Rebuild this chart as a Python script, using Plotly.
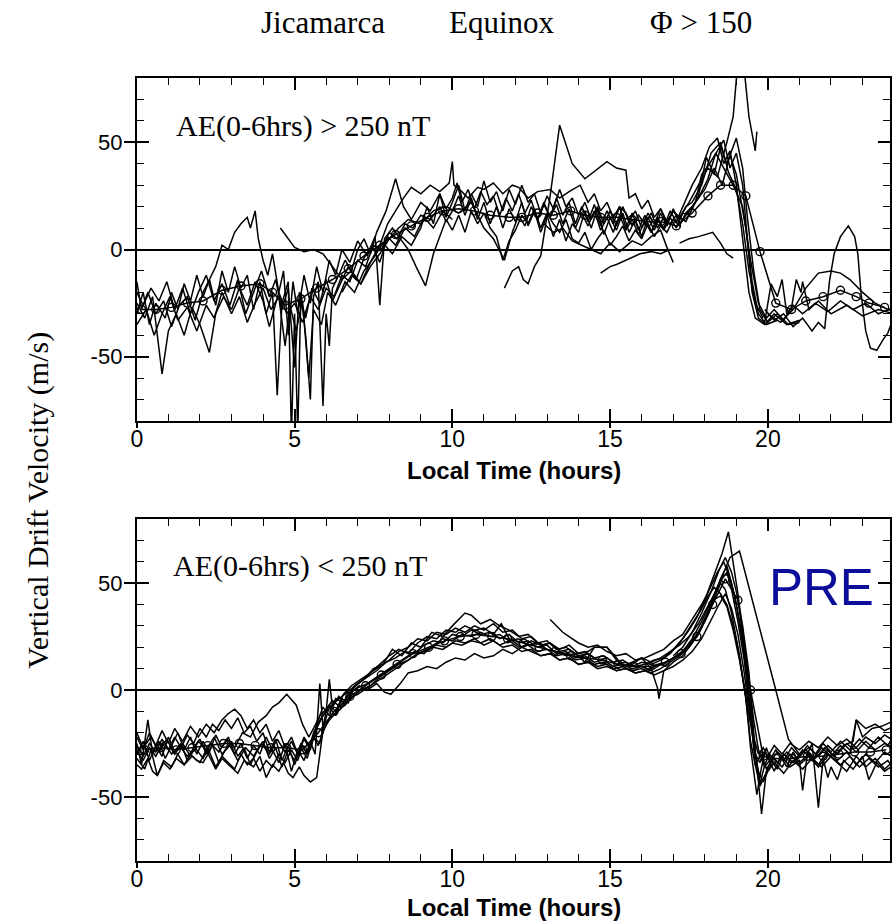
import plotly.graph_objects as go

# ---------------------------------------------------------------
# Jicamarca equinox vertical drifts, solar flux > 150
# each list: (local time [h], vertical drift [m/s]) for one day
# ---------------------------------------------------------------

# upper panel: AE(0-6hrs) > 250 nT
top_day01 = [(0.0,-25),(0.25,-32),(0.5,-22),(0.8,-58),(1.0,-38),(1.25,-30),(1.5,-40),(1.75,-27),(2.0,-35),(2.3,-48),(2.5,-30),(2.75,-22),(3.0,-28),(3.25,-18),(3.5,-26),(3.75,-15),(4.0,-24),(4.2,-36),(4.5,-20),(4.75,-30),(5.0,-25),(5.25,-34),(5.5,-22),(5.75,-28),(6.0,-18),(6.25,-22),(6.5,-12),(6.75,-15),(7.0,-5),(7.25,-8),(7.5,2),(7.75,0),(8.0,8),(8.25,5),(8.5,12),(8.75,10),(9.0,16),(9.3,14),(9.6,20),(9.8,13),(10.0,18),(10.2,25),(10.4,16),(10.6,24),(10.8,14),(11.0,22),(11.2,12),(11.4,20),(11.6,10),(11.8,19),(12.0,13),(12.2,22),(12.4,11),(12.6,18),(12.8,8),(13.0,16),(13.2,6),(13.4,14),(13.6,4),(13.8,12),(14.0,8),(14.2,18),(14.4,10),(14.6,19),(14.8,7),(15.0,15),(15.2,9),(15.4,17),(15.6,8),(15.8,14),(16.0,6),(16.2,15),(16.4,9),(16.6,17),(16.8,11),(17.0,19),(17.2,12),(17.5,18),(17.8,24),(18.1,33),(18.35,45),(18.6,38),(18.9,30),(19.2,20),(19.45,-5),(19.7,-25),(19.95,-32),(20.2,-28),(20.5,-33),(20.8,-26),(21.1,-30),(21.5,-25),(21.9,-29),(22.3,-24),(22.7,-28),(23.1,-25),(23.5,-30),(24.0,-27)]
top_day02 = [(0.0,-30),(0.2,-20),(0.4,-35),(0.6,-25),(0.9,-32),(1.1,-20),(1.3,-28),(1.5,-16),(1.7,-24),(1.9,-12),(2.1,-22),(2.3,-14),(2.5,-26),(2.7,-10),(2.9,-20),(3.1,-8),(3.3,-18),(3.5,-12),(3.7,-28),(3.9,-15),(4.1,-30),(4.3,-20),(4.45,-68),(4.6,-25),(4.8,-15),(4.9,-88),(5.0,-30),(5.1,-86),(5.2,-20),(5.35,-40),(5.5,-70),(5.6,-22),(5.75,-15),(5.9,-73),(6.0,-30),(6.1,-45),(6.2,-18),(6.4,-12),(6.6,-5),(6.8,-10),(7.0,0),(7.2,5),(7.4,-2),(7.6,8),(7.9,18),(8.2,33),(8.45,20),(8.7,14),(9.0,22),(9.3,18),(9.6,26),(9.8,19),(10.0,24),(10.15,31),(10.3,22),(10.5,28),(10.7,19),(10.9,27),(11.1,21),(11.3,25),(11.5,16),(11.7,24),(11.9,18),(12.1,26),(12.3,17),(12.5,23),(12.7,14),(12.9,21),(13.1,15),(13.3,24),(13.5,16),(13.7,22),(13.9,12),(14.1,20),(14.3,13),(14.5,21),(14.7,11),(14.9,18),(15.1,12),(15.3,20),(15.5,10),(15.7,17),(15.9,9),(16.1,16),(16.3,8),(16.5,15),(16.7,10),(16.9,18),(17.1,13),(17.3,20),(17.6,30),(17.9,38),(18.15,48),(18.4,52),(18.6,40),(18.8,46),(19.0,30),(19.2,5),(19.4,-20),(19.6,-32),(19.9,-35),(20.2,-30),(20.6,-35),(21.0,-33)]
top_day03 = [(0.0,-15),(0.15,-28),(0.35,-20),(0.6,-30),(0.85,-24),(1.1,-36),(1.35,-26),(1.6,-22),(1.85,-33),(2.1,-20),(2.3,-14),(2.5,-8),(2.7,2),(2.9,0),(3.1,8),(3.3,12),(3.5,15),(3.6,10),(3.75,18),(3.85,5),(4.0,-5),(4.15,-12),(4.3,-2),(4.5,-20),(4.65,-10),(4.8,-40),(4.95,-15),(5.1,-30),(5.3,-12),(5.5,-25),(5.7,-8),(5.9,-20),(6.1,-5),(6.3,-12),(6.5,0),(6.75,-6),(7.0,4),(7.3,-3),(7.55,6),(7.7,-26),(7.85,5),(8.1,10),(8.4,4),(8.6,0),(8.85,-8),(9.15,-17),(9.4,-2),(9.6,6),(9.8,14),(10.0,9),(10.2,16),(10.4,8),(10.6,18),(10.8,12),(11.0,17),(11.2,10),(11.4,6),(11.6,-5),(11.8,4),(12.0,9),(12.2,16),(12.4,12),(12.6,19),(12.8,10),(13.0,17),(13.2,12),(13.4,8),(13.6,14),(13.8,5),(14.0,3),(14.2,8),(14.4,0),(14.6,5),(14.8,9),(15.0,2),(15.2,6),(15.4,11),(15.6,4),(15.8,9),(16.0,5),(16.2,12),(16.4,6),(16.6,11),(16.8,8),(17.0,14),(17.2,11),(17.4,17),(17.6,20),(18.0,28),(18.3,38),(18.55,30),(18.8,44),(19.0,35),(19.3,10),(19.5,-15),(19.7,-30),(19.9,-34),(20.1,-16),(20.3,-22),(20.45,-14),(20.6,-30),(20.75,-27),(20.9,-14),(21.05,-20),(21.1,-15),(21.3,-28),(21.6,-24),(22.0,-30),(22.5,-26),(23.0,-31),(23.5,-28),(24.0,-30)]
top_day04 = [(4.55,10),(4.75,6),(5.0,1),(5.3,-1),(5.6,0),(5.9,-2),(6.2,-8),(6.5,-14),(6.8,-10),(7.1,-16),(7.4,-8),(7.7,-2),(8.0,5),(8.3,10),(8.6,14),(9.0,12),(9.4,18),(9.8,20),(10.2,17),(10.6,22),(11.0,10),(11.3,5),(11.65,-5),(11.9,8),(12.1,16),(12.3,11),(12.5,20),(12.7,14),(12.9,22),(13.1,15),(13.3,21),(13.5,12),(13.7,19),(13.9,10),(14.1,17),(14.3,11),(14.5,18),(14.7,9),(14.9,15),(15.1,8),(15.3,16),(15.5,9),(15.7,14),(15.9,7),(16.1,13),(16.3,8),(16.5,14),(16.7,9),(16.9,15),(17.1,10),(17.3,17),(17.5,16),(17.8,25),(18.05,43),(18.3,35),(18.5,48),(18.7,40),(19.0,52),(19.2,38),(19.35,15),(19.55,-10),(19.75,-28),(20.0,-34),(20.3,-30),(20.65,-35),(21.0,-34)]
top_day05 = [(11.65,-18),(11.9,-10),(12.1,-8),(12.25,-14),(12.4,-16),(12.6,-8),(12.8,-3),(13.1,25),(13.4,58),(13.8,40),(14.2,33),(14.55,37),(14.9,41),(15.2,38),(15.5,37),(15.6,24),(15.8,26),(16.0,19),(16.2,23),(16.4,15),(16.6,19),(16.8,12),(17.0,18),(17.2,14),(17.4,20),(17.6,22),(17.9,30),(18.2,45),(18.5,50),(18.75,36),(19.0,28),(19.2,12),(19.4,-10),(19.6,-25),(19.85,-32)]
top_day06 = [(6.5,-20),(6.8,-12),(7.1,-16),(7.4,-6),(7.7,2),(7.95,12),(8.2,18),(8.45,24),(8.7,29),(9.0,26),(9.3,30),(9.6,27),(9.9,31),(10.0,41),(10.05,30),(10.3,27),(10.5,24),(10.8,29),(11.0,28),(11.3,31),(11.6,26),(11.9,30),(12.1,29),(12.4,24),(12.7,27),(13.1,28),(13.4,24),(13.7,27),(14.05,30),(14.3,22),(14.5,26),(14.7,18),(14.9,22),(15.1,15),(15.3,20),(15.5,17),(15.7,11),(15.9,16),(16.1,12),(16.3,17),(16.5,10),(16.7,15),(16.9,12),(17.1,16),(17.4,13),(17.7,22),(17.9,35),(18.15,40),(18.4,46),(18.6,51),(18.8,38),(19.0,45),(19.2,30),(19.35,5),(19.5,-20),(19.7,-32),(19.95,-35),(20.3,-33)]
top_day07 = [(0.0,-35),(0.3,-28),(0.55,-40),(0.8,-30),(1.05,-22),(1.3,-33),(1.6,-27),(1.9,-38),(2.2,-26),(2.45,-32),(2.7,-20),(3.0,-30),(3.25,-22),(3.5,-34),(3.75,-25),(4.0,-18),(4.25,-28),(4.5,-22),(4.7,-45),(4.85,-26),(5.05,-38),(5.25,-24),(5.45,-60),(5.6,-28),(5.85,-35),(6.05,-20),(6.3,-26),(6.6,-15),(6.9,-20),(7.2,-10),(7.5,-4),(7.8,3),(8.1,-2),(8.4,6),(8.7,2),(9.0,10),(9.2,20),(9.4,12),(9.6,26),(9.8,15),(10.0,22),(10.2,30),(10.4,18),(10.6,26),(10.8,20),(11.0,32),(11.2,22),(11.4,27),(11.6,18),(11.8,28),(12.0,21),(12.2,30),(12.4,22),(12.6,26),(12.8,17),(13.0,25),(13.2,19),(13.4,28),(13.6,20),(13.8,24),(14.0,16),(14.2,22),(14.4,14),(14.6,20),(14.8,12),(15.0,18),(15.2,11),(15.4,20),(15.6,13),(15.8,18),(16.0,10),(16.2,17),(16.4,12),(16.6,19),(16.8,13),(17.0,18),(17.2,15),(17.5,22),(17.8,30),(18.1,38),(18.4,34),(18.7,50),(18.9,62),(19.05,88),(19.25,84),(19.4,62),(19.6,46),(19.65,55)]
top_day08 = [(12.9,12),(13.2,8),(13.5,10),(13.8,4),(14.1,2),(14.4,0),(14.7,-2),(15.0,3),(15.3,-1),(15.7,4),(16.0,2),(16.3,6),(16.6,9),(16.8,1),(17.0,-6)]
top_day09 = [(14.7,-11),(15.0,-8),(15.2,-7),(15.5,-5),(15.95,-2),(16.3,-1),(16.6,-2),(16.9,0)]
top_day10 = [(17.2,3),(17.5,5),(17.8,6),(18.25,8),(18.5,3),(18.7,-2),(18.9,-4)]
top_day11 = [(19.9,-28),(20.2,-33),(20.5,-30),(20.8,-36),(21.1,-32),(21.4,-38),(21.6,-34),(21.8,-37),(21.95,-15),(22.1,-2),(22.3,6),(22.55,11),(22.75,6),(22.85,-2),(22.95,-20),(23.1,-38),(23.25,-46),(23.45,-47),(23.65,-42),(23.8,-39),(23.95,-33)]
top_day12 = [(20.0,-30),(20.4,-34),(20.8,-28),(21.2,-18),(21.6,-11),(22.0,-10),(22.3,-11),(22.6,-14),(23.0,-20),(23.4,-25),(23.8,-28),(24.0,-29)]
top_day13 = [(0.0,-20),(0.2,-26),(0.45,-18),(0.7,-24),(0.95,-15),(1.2,-28),(1.45,-18),(1.7,-30),(1.95,-20),(2.2,-12),(2.45,-24),(2.7,-16),(2.95,-26),(3.2,-14),(3.45,-30),(3.7,-20),(3.95,-10),(4.2,-22),(4.4,-14),(4.6,-28),(4.8,-18),(5.0,-55),(5.15,-20),(5.35,-32),(5.55,-18),(5.8,-25),(6.0,-14),(6.2,-24),(6.45,-16),(6.7,-8),(6.95,-14),(7.2,-4),(7.45,2),(7.7,-6),(7.95,6),(8.2,2),(8.5,10),(8.8,6),(9.1,15),(9.4,10),(9.7,18),(10.0,14)]

top_mean = [(0.15,-28),(0.6,-28),(1.1,-27),(1.6,-25),(2.1,-24),(2.7,-19),(3.3,-17),(3.9,-16),(4.3,-20),(4.7,-26),(5.2,-23),(5.7,-18),(6.2,-14),(6.7,-9),(7.2,-3),(7.7,2),(8.2,7),(8.7,11),(9.2,15),(9.7,18),(10.2,19),(10.7,18),(11.2,16),(11.8,15),(12.2,15),(12.7,17),(13.2,16),(13.75,18),(14.2,16),(14.7,15),(15.2,15),(15.7,14),(16.2,13),(16.6,13),(17.1,11),(17.6,17),(18.1,25),(18.5,30),(18.9,30),(19.3,25),(19.75,-1),(20.25,-25),(20.75,-28),(21.2,-24),(21.75,-22),(22.3,-19),(22.8,-22),(23.2,-25),(23.7,-27)]

# lower panel: AE(0-6hrs) < 250 nT
bot_day01 = [(0.0,-30),(0.2,-24),(0.4,-33),(0.6,-26),(0.8,-31),(1.0,-22),(1.2,-29),(1.4,-25),(1.6,-33),(1.8,-27),(2.0,-23),(2.2,-30),(2.4,-26),(2.6,-34),(2.8,-28),(3.0,-24),(3.2,-31),(3.4,-27),(3.6,-35),(3.8,-29),(4.0,-24),(4.2,-32),(4.4,-27),(4.6,-36),(4.8,-28),(5.0,-33),(5.2,-25),(5.4,-30),(5.6,-20),(5.8,-14),(6.0,-10),(6.25,-6),(6.5,-3),(6.75,0),(7.0,3),(7.3,6),(7.6,9),(7.9,13),(8.2,15),(8.5,18),(8.8,17),(9.1,21),(9.4,23),(9.7,22),(10.0,26),(10.3,25),(10.6,28),(10.9,26),(11.2,27),(11.5,24),(11.8,26),(12.1,22),(12.4,23),(12.7,20),(13.0,21),(13.3,17),(13.6,18),(13.9,15),(14.2,16),(14.5,13),(14.8,14),(15.1,11),(15.4,12),(15.7,10),(16.0,11),(16.3,9),(16.6,12),(16.9,14),(17.2,17),(17.5,21),(17.8,27),(18.05,34),(18.3,44),(18.5,52),(18.7,58),(18.85,50),(19.0,40),(19.2,22),(19.4,4),(19.55,-14),(19.7,-28),(19.9,-36),(20.05,-33),(20.2,-38),(20.4,-31),(20.6,-36),(20.8,-29),(21.0,-34),(21.3,-30),(21.6,-35),(21.9,-28),(22.2,-33),(22.5,-29),(22.8,-35),(23.1,-30),(23.4,-34),(23.7,-29),(24.0,-32)]
bot_day02 = [(0.0,-25),(0.15,-35),(0.35,-14),(0.5,-30),(0.7,-24),(0.9,-32),(1.1,-26),(1.3,-20),(1.5,-28),(1.7,-22),(1.9,-30),(2.1,-24),(2.3,-29),(2.5,-21),(2.7,-27),(2.9,-22),(3.1,-30),(3.3,-25),(3.5,-32),(3.7,-26),(3.9,-30),(4.1,-22),(4.3,-28),(4.5,-34),(4.7,-25),(4.9,-38),(5.1,-28),(5.3,-33),(5.5,-24),(5.65,-30),(5.8,3),(5.9,-18),(6.1,-8),(6.3,-12),(6.5,-4),(6.7,-6),(6.9,2),(7.2,5),(7.5,10),(7.8,12),(8.1,19),(8.4,16),(8.7,22),(9.0,20),(9.35,27),(9.7,25),(10.0,30),(10.4,36),(10.6,35),(10.9,31),(11.2,33),(11.5,30),(11.8,28),(12.1,25),(12.4,26),(12.7,22),(13.0,23),(13.3,19),(13.6,20),(13.9,17),(14.2,18),(14.5,15),(14.8,16),(15.1,13),(15.4,14),(15.7,11),(16.0,13),(16.3,12),(16.6,14),(16.9,17),(17.2,22),(17.5,28),(17.75,34),(18.0,42),(18.2,50),(18.4,58),(18.55,64),(18.75,74),(18.9,60),(19.05,45),(19.2,28),(19.35,8),(19.5,-12),(19.65,-35),(19.8,-58),(19.95,-38),(20.1,-33),(20.3,-37),(20.5,-30),(20.8,-34),(21.1,-28),(21.4,-33),(21.7,-27),(22.0,-31),(22.3,-26),(22.6,-30),(22.8,-14),(23.0,-22),(23.3,-18),(23.6,-17),(23.9,-15)]
bot_day03 = [(0.0,-32),(0.25,-37),(0.45,-28),(0.65,-40),(0.85,-33),(1.1,-36),(1.3,-30),(1.5,-35),(1.75,-31),(2.0,-34),(2.2,-28),(2.5,-37),(2.7,-32),(3.0,-36),(3.2,-39),(3.4,-33),(3.7,-36),(3.9,-31),(4.1,-41),(4.3,-35),(4.5,-38),(4.65,-34),(4.8,-39),(4.95,-41),(5.15,-36),(5.3,-40),(5.5,-43),(5.7,-41),(5.9,-19),(6.1,-14),(6.35,-10),(6.6,-7),(6.85,-3),(7.1,0),(7.4,2),(7.7,6),(8.0,9),(8.3,12),(8.6,14),(8.9,17),(9.2,19),(9.5,21),(9.8,20),(10.1,23),(10.4,22),(10.7,24),(11.0,21),(11.3,23),(11.6,20),(11.9,21),(12.2,18),(12.5,19),(12.8,16),(13.1,17),(13.4,14),(13.7,15),(14.0,12),(14.3,13),(14.6,10),(14.9,11),(15.2,9),(15.5,10),(15.8,8),(16.1,9),(16.4,11),(16.7,12),(17.0,15),(17.3,18),(17.6,24),(17.9,32),(18.15,40),(18.4,48),(18.6,55),(18.8,62),(19.1,65),(20.25,0),(20.65,-23),(21.0,-30),(21.3,-27),(21.6,-31),(21.9,-26),(22.2,-30),(22.5,-25),(22.8,-29),(23.1,-24),(23.4,-28),(23.7,-25),(24.0,-27)]
bot_day04 = [(0.0,-22),(0.2,-28),(0.4,-20),(0.6,-26),(0.8,-19),(1.0,-25),(1.2,-18),(1.45,-24),(1.7,-17),(1.95,-22),(2.2,-16),(2.45,-20),(2.7,-14),(2.9,-11),(3.1,-9),(3.3,-12),(3.5,-18),(3.7,-14),(3.9,-20),(4.1,-16),(4.3,-24),(4.5,-19),(4.7,-27),(4.9,-22),(5.1,-30),(5.3,-23),(5.5,-28),(5.7,-16),(5.9,-8),(6.1,-12),(6.3,-4),(6.55,-6),(6.8,0),(7.1,4),(7.4,8),(7.7,11),(8.0,14),(8.3,18),(8.6,20),(8.9,24),(9.2,23),(9.5,27),(9.8,26),(10.1,29),(10.4,27),(10.7,30),(11.0,28),(11.3,31),(11.6,27),(11.9,28),(12.2,24),(12.5,25),(12.8,21),(13.1,22),(13.4,18),(13.7,19),(14.0,16),(14.3,17),(14.6,14),(14.9,15),(15.2,12),(15.5,13),(15.8,11),(16.1,12),(16.4,14),(16.7,15),(17.0,19),(17.3,24),(17.6,31),(17.9,38),(18.1,44),(18.3,48),(18.5,45),(18.7,40),(18.9,30),(19.1,16),(19.3,-4),(19.45,-24),(19.6,-35),(19.8,-30),(19.95,-37),(20.2,-32),(20.45,-36),(20.7,-30),(21.0,-35),(21.3,-31),(21.6,-36),(21.9,-30),(22.2,-34),(22.5,-38),(22.8,-31),(23.1,-36),(23.4,-32),(23.7,-37),(24.0,-33)]
bot_day05 = [(0.0,-28),(0.2,-33),(0.4,-27),(0.6,-31),(0.85,-24),(1.1,-30),(1.35,-26),(1.6,-31),(1.85,-27),(2.1,-32),(2.35,-25),(2.6,-29),(2.85,-23),(3.1,-27),(3.35,-20),(3.6,-22),(3.85,-15),(4.1,-12),(4.3,-8),(4.5,-6),(4.75,-2),(4.95,-5),(5.05,-7),(5.25,-16),(5.45,-22),(5.6,-18),(5.8,-12),(6.0,-9),(6.2,-5),(6.45,-8),(6.7,-2),(7.0,1),(7.3,3),(7.6,6),(7.9,9),(8.2,12),(8.5,15),(8.8,18),(9.1,17),(9.4,21),(9.7,24),(10.0,23),(10.3,26),(10.6,25),(10.9,27),(11.2,25),(11.5,26),(11.8,23),(12.1,24),(12.4,21),(12.7,22),(13.0,19),(13.3,18),(13.6,16),(13.9,17),(14.2,13),(14.5,20),(14.9,20),(15.2,14),(15.4,11),(15.7,12),(16.0,15),(16.3,10),(16.5,1),(16.55,-4),(16.7,9),(17.0,13),(17.3,16),(17.6,22),(17.9,30),(18.25,42),(18.5,44),(18.7,39),(18.9,28),(19.1,14),(19.3,-3),(19.45,-27),(19.55,-38),(19.65,-49),(19.8,-36),(19.95,-27),(20.1,-33),(20.3,-29),(20.45,-31),(20.7,-36),(21.0,-33),(21.1,-47),(21.25,-30),(21.4,-25),(21.6,-55),(21.75,-32),(21.9,-41),(22.0,-36),(22.2,-42),(22.4,-33),(22.7,-37),(23.0,-31),(23.2,-42),(23.45,-34),(23.7,-38),(24.0,-35)]
bot_day06 = [(0.0,-35),(0.15,-37),(0.35,-32),(0.5,-38),(0.65,-40),(0.85,-34),(1.05,-37),(1.25,-32),(1.5,-35),(1.7,-30),(1.9,-33),(2.1,-34),(2.3,-29),(2.5,-36),(2.7,-31),(2.9,-34),(3.1,-37),(3.3,-30),(3.5,-35),(3.7,-32),(3.9,-38),(4.1,-33),(4.3,-36),(4.5,-30),(4.7,-34),(4.9,-28),(5.1,-33),(5.25,-26),(5.4,-30),(5.6,-22),(5.75,-26),(6.0,-16),(6.2,-12),(6.45,-9),(6.7,-4),(7.0,-2),(7.3,1),(7.6,4),(7.9,7),(8.2,10),(8.5,13),(8.8,16),(9.1,18),(9.4,20),(9.7,19),(10.0,22),(10.3,21),(10.6,23),(10.9,22),(11.2,24),(11.5,21),(11.8,23),(12.1,20),(12.4,21),(12.7,18),(13.0,19),(13.3,16),(13.6,17),(13.9,14),(14.2,15),(14.5,12),(14.8,13),(15.1,10),(15.4,11),(15.7,9),(16.0,10),(16.3,8),(16.6,10),(16.9,13),(17.2,16),(17.5,20),(17.8,26),(18.1,35),(18.35,45),(18.55,52),(18.7,55),(18.85,47),(19.05,32),(19.25,14),(19.4,-6),(19.55,-26),(19.7,-38),(19.85,-43),(20.0,-38),(20.2,-34),(20.5,-39),(20.8,-33),(21.1,-37),(21.4,-32),(21.7,-36),(22.0,-31),(22.3,-35),(22.6,-31),(22.9,-36),(23.2,-32),(23.5,-36),(23.8,-33),(24.0,-37)]
bot_day07 = [(13.1,33),(13.3,30),(13.5,27),(13.7,25),(14.0,22),(14.3,20),(14.6,21),(14.9,18),(15.2,16),(15.5,17),(15.8,14),(16.1,15),(16.4,17),(16.7,19),(17.0,23),(17.3,26),(17.6,33),(17.9,40),(18.15,47),(18.4,55),(18.6,60),(18.8,52),(18.95,44),(19.15,28),(19.35,5),(19.5,-18),(19.6,-35),(19.75,-45),(19.9,-40),(20.1,-35)]
bot_day08 = [(0.0,-26),(0.2,-31),(0.4,-25),(0.6,-29),(0.8,-23),(1.0,-28),(1.2,-22),(1.4,-27),(1.6,-21),(1.8,-25),(2.0,-18),(2.2,-22),(2.4,-16),(2.6,-19),(2.8,-14),(3.0,-18),(3.2,-13),(3.4,-20),(3.6,-17),(3.8,-24),(4.0,-20),(4.2,-29),(4.4,-23),(4.6,-33),(4.8,-26),(5.0,-35),(5.2,-27),(5.4,-32),(5.6,-22),(5.8,-25),(6.0,-10),(6.1,5),(6.2,-8),(6.4,-3),(6.6,-7),(6.8,-1),(7.05,2),(7.3,0),(7.6,3),(7.85,-1),(8.05,-2),(8.35,3),(8.6,8),(8.9,9),(9.2,11),(9.5,10),(9.8,13),(10.1,15),(10.4,14),(10.7,17),(11.0,15),(11.3,16),(11.6,19),(11.9,17),(12.2,20),(12.5,18),(12.8,16),(13.1,17),(13.4,14),(13.7,15),(14.0,12),(14.3,13),(14.6,11),(14.9,12),(15.2,9),(15.5,10),(15.8,8),(16.1,9),(16.4,7),(16.7,9),(17.0,11),(17.3,14),(17.6,18),(17.9,24),(18.2,33),(18.45,40),(18.65,45),(18.85,38),(19.05,26),(19.25,8),(19.4,-10),(19.55,-22),(19.7,-30),(19.85,-27),(20.0,-31),(20.2,-26),(20.45,-30),(20.7,-25),(21.0,-28),(21.3,-24),(21.6,-27),(21.9,-22),(22.2,-26),(22.5,-23),(22.8,-27),(23.1,-22),(23.4,-25),(23.7,-21),(24.0,-24)]
bot_day09 = [(0.0,-20),(0.2,-27),(0.45,-22),(0.7,-29),(0.95,-23),(1.2,-30),(1.45,-25),(1.7,-31),(1.95,-24),(2.2,-28),(2.45,-22),(2.7,-30),(2.95,-26),(3.2,-33),(3.45,-27),(3.7,-31),(3.95,-25),(4.2,-30),(4.45,-23),(4.7,-29),(4.9,-24),(5.1,-30),(5.3,-22),(5.5,-27),(5.7,-18),(5.9,-12),(6.1,-7),(6.3,-10),(6.55,-2),(6.8,2),(7.1,5),(7.4,8),(7.7,12),(8.0,16),(8.3,19),(8.6,17),(8.9,22),(9.2,25),(9.5,24),(9.8,28),(10.1,27),(10.4,30),(10.7,28),(11.0,29),(11.3,26),(11.55,31),(11.8,24),(12.0,22),(12.2,20),(12.5,23),(12.8,21),(13.1,22),(13.4,19),(13.7,21),(14.0,17),(14.3,18),(14.5,20),(14.9,20),(15.2,15),(15.4,11),(15.7,13),(16.0,15),(16.3,13),(16.6,15),(16.9,18),(17.2,21),(17.5,25),(17.8,31),(18.05,38),(18.3,45),(18.5,50),(18.65,47),(18.85,36),(19.05,20),(19.2,5),(19.35,-8),(19.5,-20),(19.6,-30),(19.75,-34),(19.9,-29),(20.05,-33),(20.25,-28),(20.5,-33),(20.75,-27),(21.0,-31),(21.25,-26),(21.5,-30),(21.75,-25),(22.0,-29),(22.3,-24),(22.6,-28),(22.9,-23),(23.2,-27),(23.5,-22),(23.8,-26),(24.0,-21)]
bot_day10 = [(17.0,16),(17.3,20),(17.6,27),(17.9,36),(18.2,46),(18.45,56),(18.65,62),(18.85,55),(19.0,46),(19.2,30),(19.4,8),(19.5,-12),(19.6,-30),(19.75,-44),(19.9,-35),(20.05,-30),(20.3,-34),(20.6,-29),(20.9,-33),(21.2,-28),(21.5,-32),(21.8,-27),(22.1,-31),(22.4,-26),(22.7,-24),(22.8,-14),(23.1,-18),(23.4,-16),(23.7,-19),(24.0,-17)]

bot_mean = [(0.25,-28),(0.75,-27),(1.25,-28),(1.75,-27),(2.25,-26),(2.75,-25),(3.25,-25),(3.75,-26),(4.25,-27),(4.75,-27),(5.25,-28),(5.75,-20),(6.25,-10),(6.75,-3),(7.25,2),(7.75,7),(8.25,12),(8.75,17),(9.25,20),(9.75,23),(10.25,25),(10.75,26),(11.25,25),(11.75,24),(12.25,22),(12.75,20),(13.25,18),(13.75,16),(14.25,15),(14.75,14),(15.25,12),(15.75,11),(16.25,11),(16.75,13),(17.25,17),(17.75,25),(18.25,40),(18.65,52),(19.05,42),(19.45,0),(19.85,-31),(20.25,-32),(20.75,-32),(21.25,-31),(21.75,-31),(22.25,-30),(22.75,-29),(23.25,-29),(23.75,-28)]

top_days = [top_day01, top_day02, top_day03, top_day04, top_day05, top_day06, top_day07,
            top_day08, top_day09, top_day10, top_day11, top_day12, top_day13]
bot_days = [bot_day01, bot_day02, bot_day03, bot_day04, bot_day05, bot_day06, bot_day07,
            bot_day08, bot_day09, bot_day10]

x_ticks = [0, 5, 10, 15, 20]
y_ticks = [-50, 0, 50]
y_tick_text = ["-50", "0", "50"]

# ---------------------------------------------------------------
W, H = 892, 923
X_DOM = [132 / W, 1.0]
TOP_DOM = [1 - 421 / H, 1 - 78 / H]
BOT_DOM = [1 - 861 / H, 1 - 519 / H]
X_RANGE = [0, 23.87]
Y_RANGE = [-80, 80]

SANS = "Liberation Sans, Arial, sans-serif"
SERIF = "Liberation Serif, Times New Roman, serif"

fig = go.Figure()


def add_day(pts, xa, ya):
    fig.add_trace(go.Scatter(
        x=[p[0] for p in pts], y=[p[1] for p in pts], mode="lines",
        line=dict(color="black", width=1.5), xaxis=xa, yaxis=ya,
        showlegend=False, hoverinfo="skip"))


def add_mean(pts, xa, ya):
    fig.add_trace(go.Scatter(
        x=[p[0] for p in pts], y=[p[1] for p in pts], mode="lines+markers",
        line=dict(color="black", width=1.5),
        marker=dict(symbol="circle-open", size=8, color="black", line=dict(width=1.4)),
        xaxis=xa, yaxis=ya, showlegend=False, hoverinfo="skip"))


for d in top_days:
    add_day(d, "x", "y")
add_mean(top_mean, "x", "y")
for d in bot_days:
    add_day(d, "x2", "y2")
add_mean(bot_mean, "x2", "y2")

# empty traces that activate the overlay axes carrying the outer tick stubs
for xa, ya in (("x3", "y3"), ("x4", "y4")):
    fig.add_trace(go.Scatter(x=[None], y=[None], mode="lines", xaxis=xa, yaxis=ya,
                             showlegend=False, hoverinfo="skip"))


def main_x(anchor):
    return dict(domain=X_DOM, anchor=anchor, range=X_RANGE, tickmode="array",
                tickvals=x_ticks, ticktext=[str(v) for v in x_ticks],
                ticks="inside", ticklen=12, tickwidth=1.6, tickcolor="black",
                showline=True, linecolor="black", linewidth=2, mirror="ticks",
                showgrid=False, zeroline=False, ticklabelstandoff=-4,
                tickfont=dict(family=SANS, size=23, color="black"),
                minor=dict(tickmode="linear", tick0=0, dtick=1, ticks="inside",
                           ticklen=7, tickwidth=1.4, tickcolor="black", showgrid=False))


def main_y(anchor, dom):
    return dict(domain=dom, anchor=anchor, range=Y_RANGE, tickmode="array",
                tickvals=y_ticks, ticktext=y_tick_text,
                ticks="inside", ticklen=12, tickwidth=1.6, tickcolor="black",
                showline=True, linecolor="black", linewidth=2, mirror="ticks",
                showgrid=False, zeroline=True, zerolinecolor="black", zerolinewidth=1.6,
                ticklabelstandoff=8,
                tickfont=dict(family=SANS, size=22, color="black"),
                minor=dict(tickmode="linear", tick0=0, dtick=10, ticks="inside",
                           ticklen=7, tickwidth=1.4, tickcolor="black", showgrid=False))


def stub_x(over, anchor):
    return dict(overlaying=over, anchor=anchor, range=X_RANGE, tickmode="array",
                tickvals=x_ticks, ticks="outside", ticklen=6, tickwidth=1.6,
                tickcolor="black", showticklabels=False, showline=False,
                showgrid=False, zeroline=False, side="bottom")


def stub_y(over, anchor):
    return dict(overlaying=over, anchor=anchor, range=Y_RANGE, tickmode="array",
                tickvals=y_ticks, ticks="outside", ticklen=12, tickwidth=1.6,
                tickcolor="black", showticklabels=False, showline=False,
                showgrid=False, zeroline=False, side="left")


annotations = [
    dict(text="Jicamarca", x=255 / W, y=1 - 22 / H, xanchor="left", yanchor="middle",
         font=dict(family=SERIF, size=31, color="black")),
    dict(text="Equinox", x=445 / W, y=1 - 22 / H, xanchor="left", yanchor="middle",
         font=dict(family=SERIF, size=31, color="black")),
    dict(text="\u03a6 > 150", x=648 / W, y=1 - 22 / H, xanchor="left", yanchor="middle",
         font=dict(family=SERIF, size=31, color="black")),
    dict(text="AE(0-6hrs) &gt; 250 nT", x=170 / W, y=1 - 126 / H, xanchor="left",
         yanchor="middle", font=dict(family=SERIF, size=30, color="black")),
    dict(text="AE(0-6hrs) &lt; 250 nT", x=166 / W, y=1 - 566 / H, xanchor="left",
         yanchor="middle", font=dict(family=SERIF, size=30, color="black")),
    dict(text="PRE", x=768 / W, y=1 - 587 / H, xanchor="left", yanchor="middle",
         font=dict(family=SANS, size=51, color="#0d0d9c")),
    dict(text="<b>Local Time (hours)</b>", x=513 / W, y=1 - 470 / H, xanchor="center",
         yanchor="middle", font=dict(family=SANS, size=24, color="black")),
    dict(text="<b>Local Time (hours)</b>", x=513 / W, y=1 - 907 / H, xanchor="center",
         yanchor="middle", font=dict(family=SANS, size=24, color="black")),
    dict(text="Vertical Drift Velocity (m/s)", x=32 / W, y=1 - 500 / H, textangle=-90,
         xanchor="center", yanchor="middle", font=dict(family=SERIF, size=30, color="black")),
]
for a in annotations:
    a.update(xref="paper", yref="paper", showarrow=False)

fig.update_layout(
    width=W, height=H, margin=dict(l=0, r=0, t=0, b=0, pad=0),
    paper_bgcolor="white", plot_bgcolor="white", showlegend=False,
    xaxis=main_x("y"), yaxis=main_y("x", TOP_DOM),
    xaxis2=main_x("y2"), yaxis2=main_y("x2", BOT_DOM),
    xaxis3=stub_x("x", "y"), yaxis3=stub_y("y", "x"),
    xaxis4=stub_x("x2", "y2"), yaxis4=stub_y("y2", "x2"),
    annotations=annotations,
)

fig.write_html("out.html")
